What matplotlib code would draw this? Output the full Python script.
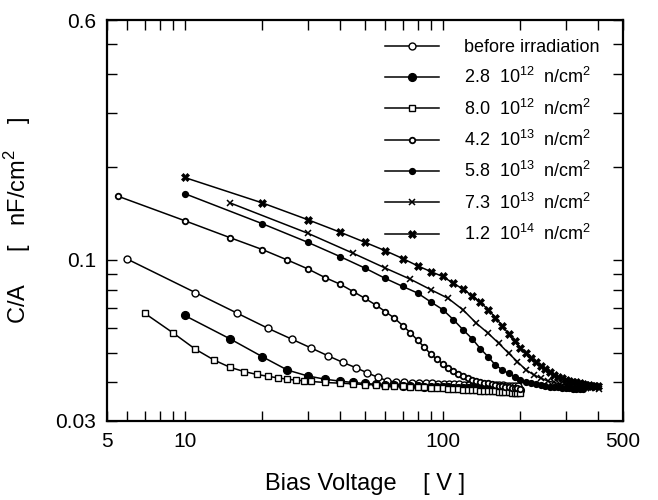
import matplotlib
matplotlib.use("Agg")
import matplotlib.pyplot as plt
from matplotlib.legend_handler import HandlerLine2D
from matplotlib.ticker import FixedLocator, NullFormatter

plt.rcParams['font.family'] = ['Liberation Sans', 'DejaVu Sans']
plt.rcParams['mathtext.fontset'] = 'custom'
plt.rcParams['mathtext.rm'] = 'Liberation Sans'

# --- data: bias voltage [V] vs C/A [nF/cm^2] ---
v_before = [6, 11, 16, 21, 26, 31, 36, 41, 46, 51, 56, 61, 66, 71, 76, 81, 86, 91, 96, 101,
            106, 111, 116, 121, 126, 131, 136, 141, 146, 151, 156, 161, 166, 171, 176, 181,
            186, 191, 196]
c_before = [0.1005, 0.0783, 0.0671, 0.0600, 0.0553, 0.0517, 0.0488, 0.0465, 0.0447, 0.0430,
            0.0416, 0.0405, 0.0402, 0.0400, 0.0399, 0.0398, 0.0397, 0.0397, 0.0396, 0.0396,
            0.0395, 0.0395, 0.0395, 0.0394, 0.0394, 0.0394, 0.0393, 0.0393, 0.0393, 0.0393,
            0.0392, 0.0392, 0.0392, 0.0392, 0.0391, 0.0391, 0.0391, 0.0391, 0.0390]

v_28e12 = [10, 15, 20, 25, 30, 35, 40, 45, 50, 55, 60, 65, 70, 75, 80, 85, 90, 95, 100, 105,
           110, 115, 120, 125, 130, 135, 140, 145, 150, 155, 160, 165, 170, 175, 180, 185,
           190, 195, 200]
c_28e12 = [0.0660, 0.0554, 0.0485, 0.0439, 0.0420, 0.0410, 0.0404, 0.0400, 0.0397, 0.0395,
           0.0393, 0.0392, 0.0391, 0.0390, 0.0389, 0.0388, 0.0387, 0.0387, 0.0386, 0.0386,
           0.0385, 0.0385, 0.0384, 0.0384, 0.0383, 0.0383, 0.0382, 0.0382, 0.0381, 0.0381,
           0.0381, 0.0380, 0.0380, 0.0380, 0.0379, 0.0379, 0.0379, 0.0378, 0.0378]

v_80e12 = [7, 9, 11, 13, 15, 17, 19, 21, 23, 25, 27, 29, 31, 35, 40, 45, 50, 55, 60, 65, 70,
           75, 80, 85, 90, 95, 100, 105, 110, 115, 120, 125, 130, 135, 140, 145, 150, 155,
           160, 165, 170, 175, 180, 185, 190, 195, 200]
c_80e12 = [0.0671, 0.0580, 0.0513, 0.0473, 0.0448, 0.0434, 0.0425, 0.0419, 0.0414, 0.0410,
           0.0407, 0.0405, 0.0403, 0.0400, 0.0398, 0.0396, 0.0394, 0.0393, 0.0391, 0.0390,
           0.0389, 0.0388, 0.0387, 0.0386, 0.0385, 0.0384, 0.0383, 0.0382, 0.0381, 0.0380,
           0.0379, 0.0378, 0.0378, 0.0377, 0.0376, 0.0376, 0.0375, 0.0374, 0.0374, 0.0373,
           0.0373, 0.0372, 0.0372, 0.0371, 0.0371, 0.0370, 0.0370]

v_42e13 = [5.5, 10, 15, 20, 25, 30, 35, 40, 45, 50, 55, 60, 65, 70, 75, 80, 85, 90, 95, 100,
           105, 110, 115, 120, 125, 130, 135, 140, 145, 150, 155, 160, 165, 170, 175, 180,
           185, 190, 195, 200]
c_42e13 = [0.161, 0.134, 0.118, 0.108, 0.0999, 0.0935, 0.0876, 0.0834, 0.0789, 0.0750,
           0.0714, 0.0679, 0.0647, 0.0612, 0.0580, 0.0548, 0.0520, 0.0494, 0.0476, 0.0460,
           0.0446, 0.0435, 0.0426, 0.0419, 0.0413, 0.0409, 0.0405, 0.0402, 0.0399, 0.0397,
           0.0395, 0.0393, 0.0391, 0.0389, 0.0388, 0.0386, 0.0385, 0.0384, 0.0383, 0.0382]

v_58e13 = [10, 20, 30, 40, 50, 60, 70, 80, 90, 100, 110, 120, 130, 140, 150, 160, 170, 180,
           190, 200, 210, 220, 230, 240, 250, 260, 270, 280, 290, 300, 310, 320, 330, 340, 350]
c_58e13 = [0.164, 0.131, 0.114, 0.1025, 0.094, 0.087, 0.082, 0.078, 0.073, 0.069, 0.064,
           0.0593, 0.0555, 0.0515, 0.0485, 0.0456, 0.0440, 0.0428, 0.0418, 0.0408, 0.0402,
           0.0398, 0.0395, 0.0392, 0.0390, 0.0388, 0.0387, 0.0386, 0.0385, 0.0384, 0.0383,
           0.0382, 0.0382, 0.0381, 0.0381]

v_73e13 = [15, 30, 45, 60, 75, 90, 105, 120, 135, 150, 165, 180, 195, 210, 225, 240, 255, 270,
           285, 300, 315, 330, 345, 360, 375, 390, 405]
c_73e13 = [0.153, 0.122, 0.105, 0.094, 0.0865, 0.080, 0.075, 0.0688, 0.0623, 0.0578, 0.0536,
           0.0498, 0.0467, 0.0440, 0.0424, 0.0413, 0.0405, 0.0400, 0.0396, 0.0393, 0.0390,
           0.0388, 0.0386, 0.0385, 0.0384, 0.0383, 0.0382]

v_12e14 = [10, 20, 30, 40, 50, 60, 70, 80, 90, 100, 110, 120, 130, 140, 150, 160, 170, 180,
           190, 200, 210, 220, 230, 240, 250, 260, 270, 280, 290, 300, 310, 320, 330, 340,
           350, 360, 370, 380, 390, 400]
c_12e14 = [0.185, 0.153, 0.135, 0.123, 0.114, 0.107, 0.101, 0.0956, 0.0916, 0.0883, 0.0840,
           0.0803, 0.0765, 0.0728, 0.0690, 0.0650, 0.0612, 0.0575, 0.0545, 0.0518, 0.0497,
           0.0480, 0.0465, 0.0452, 0.0441, 0.0432, 0.0424, 0.0418, 0.0413, 0.0409, 0.0405,
           0.0402, 0.0400, 0.0398, 0.0396, 0.0394, 0.0392, 0.0391, 0.0390, 0.0389]

labels = ['before irradiation',
          r'2.8  10$^{12}$  n/cm$^2$',
          r'8.0  10$^{12}$  n/cm$^2$',
          r'4.2  10$^{13}$  n/cm$^2$',
          r'5.8  10$^{13}$  n/cm$^2$',
          r'7.3  10$^{13}$  n/cm$^2$',
          r'1.2  10$^{14}$  n/cm$^2$']


class MarkerAtLeft(HandlerLine2D):
    # legend sample: marker sits at the left end of the line
    def get_xdata(self, legend, xdescent, ydescent, width, height, fontsize):
        return [-xdescent, -xdescent + width], [-xdescent]


fig = plt.figure(figsize=(6.58, 5.0), dpi=100)
ax = fig.add_axes([0.1626, 0.158, 0.7842, 0.802])

kw = dict(color='black', lw=1.1)
ax.plot(v_before, c_before, marker='o', ms=5.0, mfc='white', mec='black', mew=1.0, label=labels[0], **kw)
ax.plot(v_28e12, c_28e12, marker='o', ms=5.6, mfc='black', mec='black', label=labels[1], **kw)
ax.plot(v_80e12, c_80e12, marker='s', ms=4.6, mfc='white', mec='black', mew=1.0, label=labels[2], **kw)
ax.plot(v_42e13, c_42e13, marker='o', ms=4.0, mfc='white', mec='black', mew=1.3, label=labels[3], **kw)
ax.plot(v_58e13, c_58e13, marker='o', ms=4.2, mfc='black', mec='black', label=labels[4], **kw)
ax.plot(v_73e13, c_73e13, marker='x', ms=5.0, mec='black', mew=1.1, label=labels[5], **kw)
ax.plot(v_12e14, c_12e14, marker='X', ms=5.4, mfc='black', mec='black', mew=0.5, label=labels[6], **kw)

ax.set_xscale('log')
ax.set_yscale('log')
ax.set_xlim(5, 500)
ax.set_ylim(0.03, 0.6)

ax.xaxis.set_major_locator(FixedLocator([5, 10, 100, 500]))
ax.xaxis.set_minor_locator(FixedLocator([6, 7, 8, 9, 20, 30, 40, 50, 60, 70, 80, 90, 200, 300, 400]))
ax.set_xticklabels(['5', '10', '100', '500'])
ax.xaxis.set_minor_formatter(NullFormatter())

ax.yaxis.set_major_locator(FixedLocator([0.03, 0.1, 0.6]))
ax.yaxis.set_minor_locator(FixedLocator([0.04, 0.05, 0.06, 0.07, 0.08, 0.09, 0.2, 0.3, 0.4, 0.5]))
ax.set_yticklabels(['0.03', '0.1', '0.6'])
ax.yaxis.set_minor_formatter(NullFormatter())

ax.tick_params(which='both', direction='in', top=True, right=True, width=1.0, labelsize=15)
ax.tick_params(which='major', length=7, pad=8)
ax.tick_params(which='minor', length=7)
for s in ax.spines.values():
    s.set_linewidth(1.6)

ax.set_xlabel('Bias Voltage    [ V ]', fontsize=17, labelpad=16)
ax.set_ylabel(r'C/A     [   nF/cm$^2$    ]', fontsize=17, labelpad=16)

ax.legend(loc='upper right', bbox_to_anchor=(0.972, 0.975), frameon=False, fontsize=13,
          handlelength=3.0, handletextpad=1.4, labelspacing=0.62, borderpad=0.0,
          handler_map={plt.Line2D: MarkerAtLeft()})

fig.savefig('out.png', dpi=100)
